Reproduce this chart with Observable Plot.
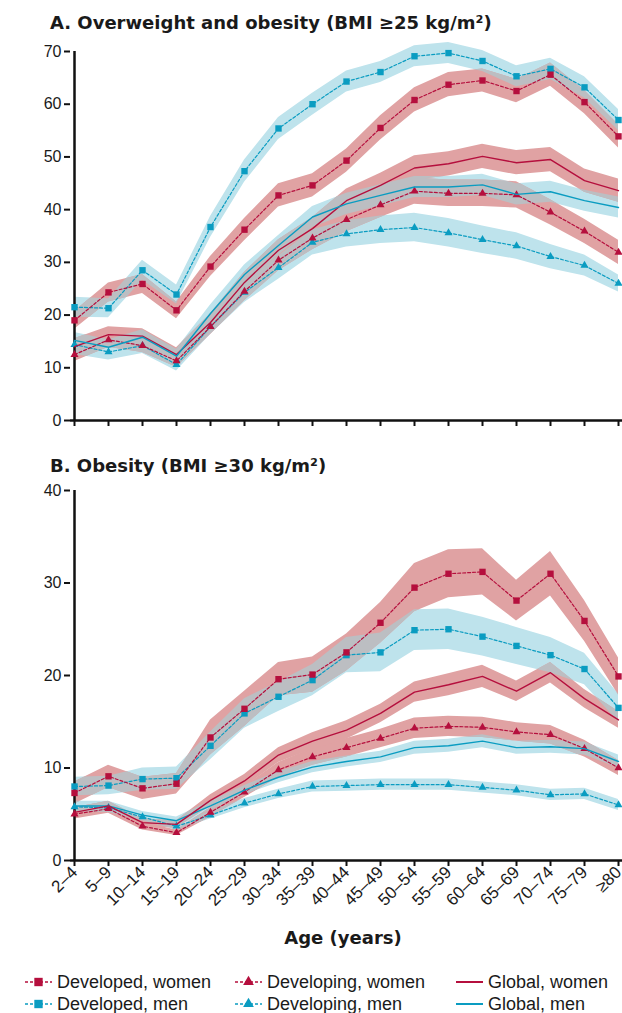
<!DOCTYPE html>
<html><head><meta charset="utf-8">
<script src="https://cdn.jsdelivr.net/npm/d3@7"></script>
<script src="https://cdn.jsdelivr.net/npm/@observablehq/plot@0.6"></script>
<style>
html,body{margin:0;padding:0;background:#fff;overflow:hidden}
#root{position:relative;width:622px;height:1013px;font-family:"Liberation Sans",Arial,sans-serif;color:#1a1a1a}
.title{position:absolute;left:50px;font-family:"DejaVu Sans",sans-serif;font-weight:bold;font-size:18px;white-space:nowrap;line-height:1}
.ylab{position:absolute;font-family:"DejaVu Sans",sans-serif;font-weight:bold;font-size:18px;white-space:nowrap;line-height:1;transform:translate(-50%,-50%) rotate(-90deg)}
.xlab{position:absolute;font-family:"DejaVu Sans",sans-serif;font-weight:bold;font-size:18px;white-space:nowrap;line-height:1;transform:translateX(-50%)}
.panel{position:absolute;left:0}
.leg{position:absolute;font-size:18px;white-space:nowrap;line-height:1}
.legsw{position:absolute}
</style>
</head><body>
<div id="root">
  <div class="title" style="top:14px">A. Overweight and obesity (BMI ≥25 kg/m²)</div>
  <div class="ylab" style="left:21px;top:236px">Prevalence (%)</div>
  <div class="panel" id="pA" style="top:40px"></div>
  <div class="title" style="top:457px">B. Obesity (BMI ≥30 kg/m²)</div>
  <div class="ylab" style="left:21px;top:675px">Prevalence (%)</div>
  <div class="panel" id="pB" style="top:480px"></div>
  <div class="xlab" style="left:343px;top:929px">Age (years)</div>
  <div id="legend"></div>
</div>
<script>
// ---------- data ----------
const ages = ["2–4","5–9","10–14","15–19","20–24","25–29","30–34","35–39","40–44","45–49","50–54","55–59","60–64","65–69","70–74","75–79","≥80"];
const yTicksA = [0,10,20,30,40,50,60,70];
const yTicksB = [0,10,20,30,40];

// Panel A: overweight and obesity, prevalence (%)
const aDevelopedWomen  = [19.0,24.3,25.9,20.9,29.2,36.2,42.7,44.6,49.3,55.5,60.8,63.7,64.5,62.5,65.6,60.4,53.9];
const aDevelopedMen    = [21.5,21.3,28.5,23.9,36.7,47.3,55.4,60.0,64.3,66.1,69.1,69.7,68.2,65.3,66.7,63.2,57.0];
const aDevelopingWomen = [12.5,15.3,14.2,11.3,17.8,24.5,30.4,34.6,38.1,40.9,43.5,43.1,43.1,42.8,39.5,35.9,31.9];
const aDevelopingMen   = [14.4,13.0,14.2,10.6,17.8,24.3,29.0,33.8,35.4,36.2,36.6,35.6,34.3,33.1,31.1,29.4,26.0];
const aGlobalWomen     = [14.0,16.3,16.0,12.5,18.6,26.2,32.3,36.4,41.7,44.6,47.9,48.7,50.1,48.9,49.5,45.5,43.6];
const aGlobalMen       = [15.2,13.9,15.8,12.2,20.3,27.7,33.2,38.6,41.1,42.7,44.3,44.3,44.7,42.9,43.4,41.7,40.4];
// Panel A: half-width of uncertainty intervals
const aDevelopedWomenCI  = [1.7,1.8,1.8,1.6,1.9,2.1,2.2,2.2,2.2,2.3,2.3,2.3,2.2,2.2,2.2,2.2,2.2];
const aDevelopedMenCI    = [1.9,1.8,1.9,1.8,2.0,2.1,2.1,2.1,2.0,2.0,2.0,2.0,2.0,2.0,2.0,2.0,2.0];
const aDevelopingWomenCI = [1.3,1.4,1.3,1.2,1.5,1.8,2.0,2.2,2.3,2.4,2.5,2.5,2.5,2.5,2.4,2.3,2.3];
const aDevelopingMenCI   = [1.9,1.5,1.5,1.2,1.5,1.9,2.2,2.4,2.5,2.6,2.7,2.7,2.6,2.5,2.3,2.0,1.6];
const aGlobalWomenCI     = [1.5,1.5,1.4,1.3,1.6,1.9,2.0,2.1,2.2,2.3,2.3,2.3,2.3,2.3,2.3,2.2,2.2];
const aGlobalMenCI       = [1.5,1.4,1.4,1.3,1.6,1.8,1.9,2.0,2.0,2.0,2.0,2.0,2.0,2.0,2.0,2.0,2.0];

// Panel B: obesity, prevalence (%)
const bDevelopedWomen  = [7.3,9.1,7.8,8.3,13.3,16.4,19.6,20.1,22.5,25.7,29.5,31.0,31.2,28.1,31.0,25.9,19.9];
const bDevelopedMen    = [8.0,8.1,8.8,8.9,12.4,15.9,17.7,19.5,22.2,22.5,24.9,25.0,24.2,23.2,22.2,20.7,16.5];
const bDevelopingWomen = [5.0,5.6,3.7,3.0,5.2,7.4,9.8,11.2,12.2,13.2,14.3,14.5,14.4,13.9,13.6,12.1,10.0];
const bDevelopingMen   = [5.8,5.7,4.7,3.7,4.9,6.2,7.2,8.0,8.1,8.2,8.2,8.2,7.9,7.6,7.1,7.2,6.0];
const bGlobalWomen     = [5.2,5.9,4.1,3.9,6.5,8.6,11.4,12.9,14.1,15.9,18.2,19.0,19.9,18.3,20.3,17.5,15.2];
const bGlobalMen       = [5.9,5.9,4.9,4.3,5.9,7.6,9.0,10.1,10.7,11.2,12.2,12.4,12.9,12.2,12.3,12.1,10.7];
// Panel B: half-width of uncertainty intervals
const bDevelopedWomenCI  = [1.2,1.2,1.2,1.1,1.9,1.9,1.8,1.9,2.0,2.2,2.6,2.6,2.5,2.2,2.4,2.2,2.0];
const bDevelopedMenCI    = [1.0,1.0,1.2,1.2,1.5,1.6,1.6,1.7,1.9,2.1,2.2,2.2,2.1,2.0,1.9,1.7,1.5];
const bDevelopingWomenCI = [0.5,0.5,0.4,0.3,0.5,0.6,0.8,0.9,1.0,1.0,1.1,1.1,1.1,1.0,1.0,0.9,0.8];
const bDevelopingMenCI   = [0.5,0.5,0.4,0.4,0.4,0.5,0.5,0.6,0.6,0.6,0.6,0.6,0.6,0.6,0.6,0.6,0.6];
const bGlobalWomenCI     = [0.5,0.5,0.4,0.4,0.6,0.7,0.8,0.9,1.0,1.0,1.1,1.2,1.2,1.1,1.1,1.0,0.9];
const bGlobalMenCI       = [0.5,0.5,0.4,0.4,0.5,0.5,0.6,0.6,0.6,0.6,0.7,0.7,0.7,0.7,0.7,0.7,0.7];

const legendLabels = [["Developed, women","Developing, women","Global, women"],["Developed, men","Developing, men","Global, men"]];

// ---------- styles ----------
const RED = "#b50f3d", BLUE = "#0a9cc1";
const PINK = "#e0a2a3", LBLUE = "#bee3ec", GRAY = "#bcbec2";
const FONT = "Liberation Sans, Arial, sans-serif";

function series(vals, ci, sex, kind) {
  return {rows: ages.map((a, i) => ({age: a, v: vals[i], lo: vals[i] - ci[i], hi: vals[i] + ci[i]})), sex, kind};
}

function buildPanel(S, yMax, yTicks, height, mTop, mBottom, showLabels, uid) {
  const marks = [];
  const blues = S.filter(s => s.sex === "men"), reds = S.filter(s => s.sex === "women");
  for (const s of blues) marks.push(Plot.areaY(s.rows, {x: "age", y1: "lo", y2: "hi", fill: LBLUE, curve: "linear"}));
  for (const s of reds) marks.push(Plot.areaY(s.rows, {x: "age", y1: "lo", y2: "hi", fill: PINK, curve: "linear"}));
  marks.push(Plot.ruleX([ages[0]], {y1: 0, y2: yMax, stroke: "#111", strokeWidth: 2.5}));
  marks.push(Plot.ruleY([0], {stroke: "#111", strokeWidth: 2.5}));
  marks.push(Plot.axisY({ticks: yTicks, tickSize: 6, tickPadding: 3, fontSize: 16, strokeWidth: 2, stroke: "#111", label: null}));
  if (showLabels) {
    marks.push(Plot.axisX({tickSize: 6, tickPadding: 3, tickRotate: -45, fontSize: 17, strokeWidth: 2, stroke: "#111", label: null}));
  } else {
    marks.push(Plot.axisX({tickSize: 6, tickFormat: () => "", strokeWidth: 2, stroke: "#111", label: null}));
  }
  for (const s of S) {
    const color = s.sex === "women" ? RED : BLUE;
    if (s.kind === "global") {
      marks.push(Plot.line(s.rows, {x: "age", y: "v", stroke: color, strokeWidth: 1.4}));
    } else {
      marks.push(Plot.line(s.rows, {x: "age", y: "v", stroke: color, strokeWidth: 1.2, strokeDasharray: "3,2"}));
      marks.push(Plot.dot(s.rows, {x: "age", y: "v", symbol: s.kind === "developed" ? "square" : "triangle",
        r: s.kind === "developed" ? 3.6 : 3.0, fill: color}));
    }
  }
  const svg = Plot.plot({
    width: 622, height, marginLeft: 70, marginRight: 0, marginTop: mTop, marginBottom: mBottom,
    style: {fontFamily: FONT, fontSize: "16px", color: "#1a1a1a", background: "white"},
    x: {type: "point", domain: ages, padding: 0},
    y: {domain: [0, yMax]},
    marks
  });
  blendOverlap(svg, uid);
  return svg;
}

// overlap of blue and red bands drawn in gray
function blendOverlap(svg, uid) {
  const ns = "http://www.w3.org/2000/svg";
  const groups = Array.from(svg.querySelectorAll('g[aria-label="area"]'));
  const reds = groups.filter(g => g.getAttribute("fill") === PINK);
  const blues = groups.filter(g => g.getAttribute("fill") === LBLUE);
  const defs = document.createElementNS(ns, "defs");
  svg.insertBefore(defs, svg.firstChild);
  const clip = document.createElementNS(ns, "clipPath");
  clip.setAttribute("id", uid + "-clip");
  for (const g of reds) for (const p of g.querySelectorAll("path")) {
    const c = p.cloneNode();
    if (g.getAttribute("transform")) c.setAttribute("transform", g.getAttribute("transform"));
    clip.appendChild(c);
  }
  defs.appendChild(clip);
  const gray = document.createElementNS(ns, "g");
  gray.setAttribute("clip-path", `url(#${uid}-clip)`);
  gray.setAttribute("fill", GRAY);
  for (const g of blues) for (const p of g.querySelectorAll("path")) {
    const c = p.cloneNode();
    if (g.getAttribute("transform")) c.setAttribute("transform", g.getAttribute("transform"));
    gray.appendChild(c);
  }
  reds[reds.length - 1].after(gray);
}

const SA = [
  series(aDevelopingMen, aDevelopingMenCI, "men", "developing"),
  series(aDevelopingWomen, aDevelopingWomenCI, "women", "developing"),
  series(aGlobalWomen, aGlobalWomenCI, "women", "global"),
  series(aGlobalMen, aGlobalMenCI, "men", "global"),
  series(aDevelopedMen, aDevelopedMenCI, "men", "developed"),
  series(aDevelopedWomen, aDevelopedWomenCI, "women", "developed")
];
const SB = [
  series(bDevelopingMen, bDevelopingMenCI, "men", "developing"),
  series(bDevelopingWomen, bDevelopingWomenCI, "women", "developing"),
  series(bGlobalMen, bGlobalMenCI, "men", "global"),
  series(bGlobalWomen, bGlobalWomenCI, "women", "global"),
  series(bDevelopedMen, bDevelopedMenCI, "men", "developed"),
  series(bDevelopedWomen, bDevelopedWomenCI, "women", "developed")
];

document.getElementById("pA").appendChild(buildPanel(SA, 70, yTicksA, 400, 11, 20, false, "pa"));
document.getElementById("pB").appendChild(buildPanel(SB, 40, yTicksB, 430, 10, 50, true, "pb"));

// ---------- legend ----------
const legend = document.getElementById("legend");
const colX = [25, 235, 456];
const rowY = [982, 1004];
const kinds = ["developed", "developing", "global"];
legendLabels.forEach((row, r) => {
  const color = r === 0 ? RED : BLUE;
  row.forEach((label, c) => {
    const sw = d3.create("svg").attr("class", "legsw").attr("width", 28).attr("height", 14)
      .style("left", colX[c] + "px").style("top", (rowY[r] - 7) + "px");
    if (kinds[c] === "global") {
      sw.append("line").attr("x1", 0).attr("x2", 27).attr("y1", 7).attr("y2", 7).attr("stroke", color).attr("stroke-width", 2);
    } else {
      sw.append("line").attr("x1", 0).attr("x2", 27).attr("y1", 7).attr("y2", 7).attr("stroke", color)
        .attr("stroke-width", 1.5).attr("stroke-dasharray", "3,2");
      const sym = kinds[c] === "developed" ? d3.symbolSquare : d3.symbolTriangle;
      sw.append("path").attr("d", d3.symbol(sym, kinds[c] === "developed" ? 70 : 50)()).attr("transform", "translate(13.5,7)").attr("fill", color);
    }
    legend.appendChild(sw.node());
    const t = document.createElement("div");
    t.className = "leg";
    t.textContent = label;
    t.style.left = (colX[c] + 32) + "px";
    t.style.top = (rowY[r] - 9) + "px";
    legend.appendChild(t);
  });
});
</script>
</body></html>
